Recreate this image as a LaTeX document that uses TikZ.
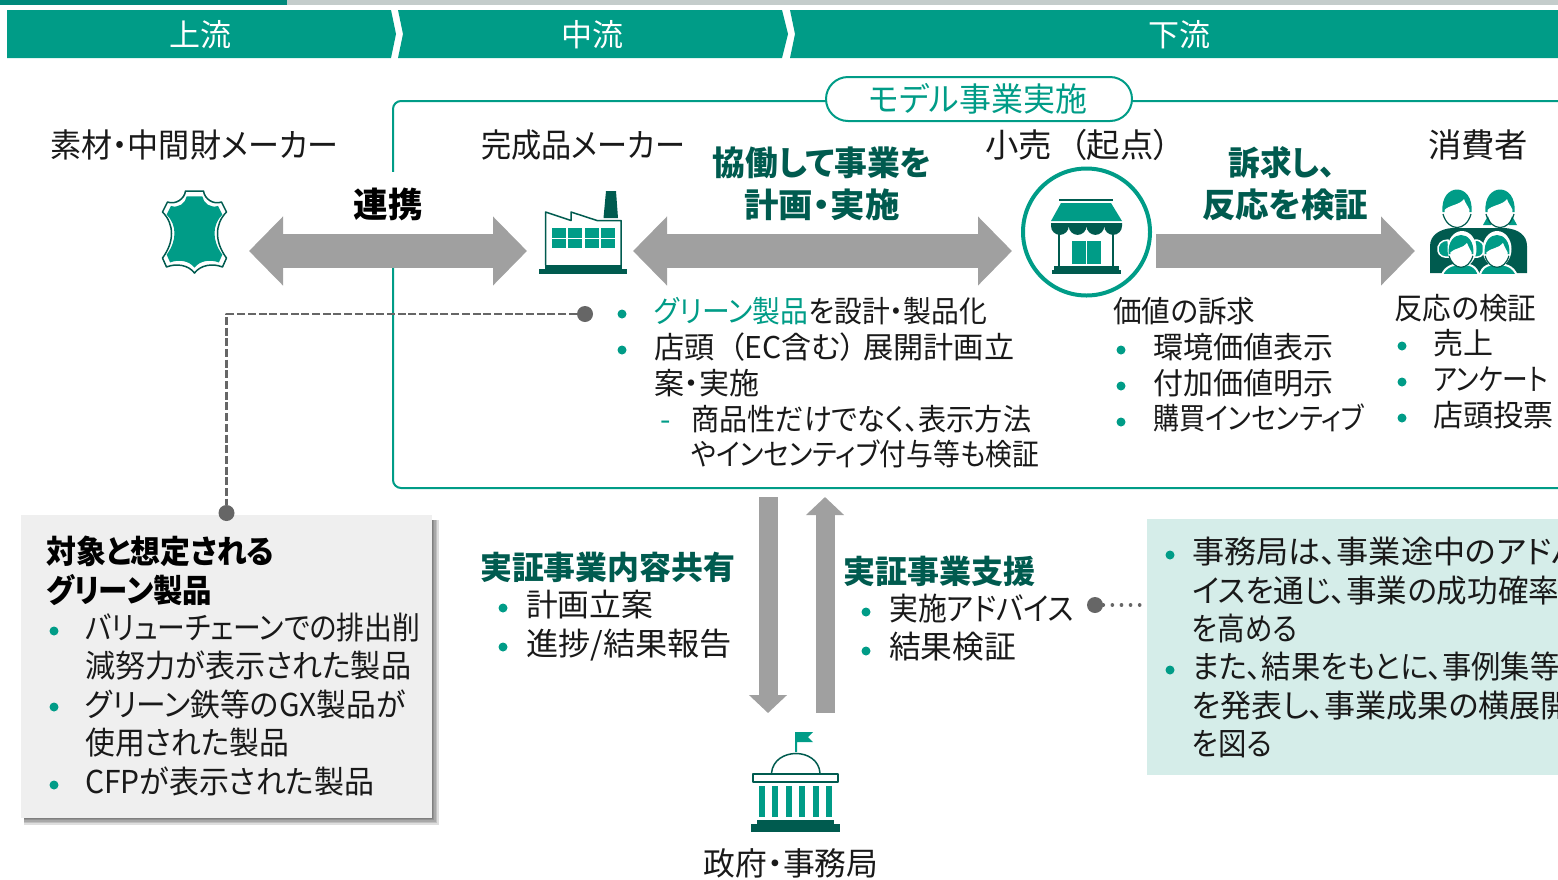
\documentclass[tikz,border=0pt]{standalone}
\usepackage{graphicx}
\usepackage{fontspec}
\setmainfont[RawFeature=+palt]{Noto Sans CJK JP}
\usetikzlibrary{arrows.meta}

\definecolor{vertA}{HTML}{009C87}
\definecolor{vertB}{HTML}{005B4F}
\definecolor{vertC}{HTML}{00897B}
\definecolor{grisA}{HTML}{A0A0A0}
\definecolor{grisB}{HTML}{666666}
\definecolor{grisC}{HTML}{C4CCCB}
\definecolor{fondA}{HTML}{EFEFEF}
\definecolor{fondB}{HTML}{D5EDE9}

\tikzset{
    bodytext/.style={anchor=west, inner sep=0pt, text height=27pt, text depth=4pt, text=black!90, font=\fontsize{30}{36}\selectfont},
    bigtext/.style={bodytext, font=\fontsize{31.5}{38}\selectfont},
    titletext/.style={bodytext, font=\fontsize{33}{36}\selectfont},
    headtext/.style={bodytext, anchor=center, text=white, font=\fontsize{31}{36}\selectfont},
    boldtext/.style={anchor=center, inner sep=0pt, text=vertB, font=\fontsize{33.5}{38}\selectfont\bfseries},
    subtext/.style={boldtext, anchor=west, font=\fontsize{32}{38}\selectfont\bfseries},
    bulletdot/.style={circle, fill=vertA, inner sep=0pt, minimum size=9pt},
    graydot/.style={circle, fill=grisB, inner sep=0pt, minimum size=16pt},
    blockarrow/.style={draw=grisA, line cap=butt, line join=miter, line width=34pt, {Triangle[length=34pt,width=67pt,fill=grisA]}-{Triangle[length=34pt,width=67pt,fill=grisA]}},
    blockright/.style={draw=grisA, line cap=butt, line join=miter, line width=34pt, -{Triangle[length=34pt,width=67pt,fill=grisA]}},
    thinarrow/.style={draw=grisA, line cap=butt, line join=miter, line width=19pt, -{Triangle[length=18pt,width=37pt,fill=grisA]}},
}

% largeur imposee
\newcommand{\fitw}[2]{\resizebox{#1pt}{\height}{#2}}
% tete d'un personnage
\newcommand{\personhead}[3]{
    \begin{scope}[shift={(#1,#2)}, scale=#3]
        \fill[vertA] (-14.5,6) .. controls (-17,-24) and (17,-24) .. (14.5,6) -- cycle;
        \fill[white] (-12.5,4) .. controls (-8,-1) and (3,-1) .. (7,-7) .. controls (8,-3) and (11,0) .. (12.5,4) -- (12,10) .. controls (9,23) and (-9,23) .. (-12,10) -- cycle;
        \draw[vertB, line width=1.2pt] (-14,8) .. controls (-9,26) and (9,26) .. (14,8);
    \end{scope}
}
% contour de la peau
\newcommand{\hidepath}{
    (-9,-41) -- (9,-41) .. controls (10,-33) and (19,-27) .. (27,-30) -- (32,-20)
    .. controls (20,-8) and (20,10) .. (32,26) -- (28,35)
    .. controls (18,31) and (6,33) .. (0,41) .. controls (-6,33) and (-18,31) .. (-28,35) -- (-32,26)
    .. controls (-20,10) and (-20,-8) .. (-32,-20) -- (-27,-30) .. controls (-19,-27) and (-10,-33) .. (-9,-41) -- cycle
}

\begin{document}
\begin{tikzpicture}[x=1pt, y=-1pt, line join=round]

    \useasboundingbox[clip] (0,0) rectangle (1558,879);

    % Bandeau du haut
    \fill[grisC] (287,0) rectangle (1558,5);
    \fill[vertC] (0,0) rectangle (287,5);
    \fill[vertA] (7,10) -- (391,10) -- (396,34) -- (391,58) -- (7,58) -- cycle;
    \fill[vertA] (398,10) -- (782,10) -- (788,34) -- (782,58) -- (398,58) -- (403,34) -- cycle;
    \fill[vertA] (790,10) -- (1558,10) -- (1558,58) -- (790,58) -- (795,34) -- cycle;
    \node[headtext] (up) at (200,35) {上流};
    \node[headtext] (mid) at (592,35) {中流};
    \node[headtext] (down) at (1179,35) {下流};

    % Cadre du modele
    \draw[vertA, line width=2pt, rounded corners=8pt] (1600,101) -- (393,101) -- (393,488) -- (1600,488);
    \node[draw=vertA, fill=white, line width=2pt, rounded corners=22pt, minimum width=306pt, minimum height=44pt, inner sep=0pt] (model) at (979,99) {};
    \node[bodytext, anchor=center, text=vertA, font=\fontsize{33}{36}\selectfont] (modeltext) at (978,100) {\fitw{218}{モデル事業実施}};

    % Titres
    \node[titletext] (maker1) at (50,146) {\fitw{288}{素材・中間財メーカー}};
    \node[titletext] (maker2) at (481,146) {\fitw{204}{完成品メーカー}};
    \node[titletext] (retail) at (985,146) {\fitw{185}{小売\hspace{18pt}（起点）}};
    \node[titletext] (users) at (1428,146) {\fitw{100}{消費者}};

    % Fleches
    \coordinate (a1) at (249,251);
    \coordinate (a2) at (527,251);
    \coordinate (b1) at (633,251);
    \coordinate (b2) at (1012,251);
    \coordinate (c1) at (1156,251);
    \coordinate (c2) at (1415,251);
    \coordinate (d1) at (768,497);
    \coordinate (d2) at (768,713);
    \coordinate (e1) at (825,713);
    \coordinate (e2) at (825,497);
    \node[fill=white, inner sep=0pt, minimum width=90pt, minimum height=62pt] (linkbox) at (388,203) {};
    \draw[blockarrow] (a1) -- (a2);
    \draw[blockarrow] (b1) -- (b2);
    \draw[blockright] (c1) -- (c2);
    \draw[thinarrow] (d1) -- (d2);
    \draw[thinarrow] (e1) -- (e2);
    \node[boldtext, text=black, font=\fontsize{34.5}{38}\selectfont\bfseries] (link) at (388,204) {連携};
    \node[boldtext] (plan1) at (822,163) {\fitw{219}{協働して事業を}};
    \node[boldtext] (plan2) at (822,205) {\fitw{155}{計画・実施}};
    \node[boldtext] (check1) at (1282,163) {\fitw{107}{訴求し、}};
    \node[boldtext] (check2) at (1285,205) {\fitw{166}{反応を検証}};

    % Peau
    \begin{scope}[shift={(194.5,232)}]
        \draw[vertB, line width=1.5pt, fill=white] \hidepath;
        \fill[vertA, scale=0.87] \hidepath;
    \end{scope}

    % Usine
    \draw[vertB, line width=1.5pt, fill=white] (545.5,265) -- (545.5,212) -- (571,220.5) -- (571,212) -- (597,220.5) -- (621,220.5) -- (621,265);
    \fill[vertB] (606,191) -- (616,191) -- (618,218) -- (603.5,218) -- cycle;
    \foreach \x in {552,568,585,601}{
        \fill[vertA] (\x,228) rectangle ++(14,9.5);
        \fill[vertA] (\x,239) rectangle ++(14,8.5);
    }
    \fill[vertB] (545,265) rectangle (622,269);
    \fill[vertB] (539,269) rectangle (627,274);

    % Magasin
    \node[circle, draw=vertA, line width=4pt, fill=white, minimum size=127pt, inner sep=0pt] (shop) at (1086.5,232) {};
    \fill[vertB] (1059,198.5) rectangle (1113,200.5);
    \fill[vertA] (1061,203) -- (1111,203) -- (1122,221) -- (1051,221) -- cycle;
    \fill[vertB] (1051,223) -- (1122,223) -- (1122,226) arc[start angle=0, end angle=180, radius=8.875] arc[start angle=0, end angle=180, radius=8.875] arc[start angle=0, end angle=180, radius=8.875] arc[start angle=0, end angle=180, radius=8.875] -- cycle;
    \fill[vertB] (1058,232) rectangle (1060,266);
    \fill[vertB] (1112,232) rectangle (1114,266);
    \fill[vertA] (1072,241) rectangle (1085.5,264);
    \fill[vertA] (1087,241) rectangle (1101,264);
    \fill[vertB] (1054,266) rectangle (1119,270);
    \fill[vertB] (1052,270) rectangle (1121,274);

    % Famille
    \begin{scope}
        \clip (1425,180) rectangle (1530,273);
        \fill[vertB] (1430,273) -- (1430,246) .. controls (1430,235) and (1440,229) .. (1452,228) -- (1505,228) .. controls (1518,229) and (1527,235) .. (1527,246) -- (1527,273) -- cycle;
        \fill[vertA] (1489,214) -- (1483,225) -- (1491,225) -- cycle;
        \fill[vertA] (1511,214) -- (1517,225) -- (1509,225) -- cycle;
        \personhead{1457}{206}{1}
        \personhead{1500}{206}{1}
        \draw[white, line width=1.5pt, fill=vertA] (1448,240) .. controls (1441,240) and (1437,245) .. (1438,251) .. controls (1439,256) and (1444,258) .. (1450,257) -- cycle;
        \draw[white, line width=1.5pt, fill=vertA] (1475,240) .. controls (1482,240) and (1485,245) .. (1484,251) .. controls (1483,256) and (1479,258) .. (1473,257) -- cycle;
        \draw[white, line width=2pt, fill=vertA] (1441,280) .. controls (1442,268) and (1451,264) .. (1462,264) .. controls (1473,264) and (1478,268) .. (1480,280) -- cycle;
        \draw[white, line width=2pt, fill=vertA] (1479,280) .. controls (1480,268) and (1486,264) .. (1497,264) .. controls (1508,264) and (1516,268) .. (1518,280) -- cycle;
        \fill[white] (1462,249) ellipse (14.5 and 18);
        \fill[white] (1497,249) ellipse (14.5 and 18);
        \personhead{1461}{249}{0.85}
        \personhead{1497}{249}{0.85}
    \end{scope}

    % Gouvernement
    \fill[vertA] (795,732) -- (813,732) -- (808,737) -- (813,742) -- (797,742) -- (797,752) -- (795,752) -- cycle;
    \draw[vertB, line width=1.5pt] (771.5,773) .. controls (774,747) and (818,747) .. (820,773);
    \draw[vertB, line width=1.5pt, fill=white] (753,774) rectangle (838,782);
    \foreach \x in {759,772,786,799,813,826}{
        \fill[vertA] (\x,786) rectangle ++(6,31);
    }
    \fill[vertB] (757,820) rectangle (834,824);
    \fill[vertB] (751,824) rectangle (840,832);
    \node[bodytext, anchor=center, font=\fontsize{32}{36}\selectfont] (gov) at (791,864) {\fitw{175}{政府・事務局}};

    % Panneaux
    \foreach \d in {0.5,2,3.5,5,6.5}{
        \fill[black, opacity=.13] (24,520) rectangle (432+\d,818+\d);
    }
    \node[fill=fondA, inner sep=0pt, minimum width=411pt, minimum height=303pt] (panelL) at (226.5,666.5) {};
    \node[fill=fondB, inner sep=0pt, minimum width=411pt, minimum height=256pt] (panelR) at (1352.5,647) {};

    % Liens pointilles
    \coordinate (panelIn) at (1147,605);
    \node[graydot] (dotA) at (585,314) {};
    \node[graydot] (dotB) at (226.5,513) {};
    \node[graydot] (dotC) at (1095,605) {};
    \draw[grisB, line width=2.2pt, dash pattern=on 8pt off 2.7pt] (dotA) -| (dotB);
    \draw[grisB, line width=3.6pt, line cap=round, dash pattern=on 0.1pt off 9pt] (dotC) -- (panelIn);

    % Texte du cadre
    \node[bodytext] (t1) at (654,311) {\fitw{333}{\textcolor{vertA}{グリーン製品}を設計・製品化}};
    \node[bodytext] (t2) at (654,347) {\fitw{360}{店頭\hspace{15pt}（EC含む）\hspace{8pt}展開計画立}};
    \node[bodytext] (t3) at (654,383) {案・実施};
    \node[bodytext, text=vertA] (t4) at (660,419) {-};
    \node[bodytext] (t5) at (691,419) {\fitw{340}{商品性だけでなく、表示方法}};
    \node[bodytext] (t6) at (691,454) {\fitw{348}{やインセンティブ付与等も検証}};
    \node[bodytext] (t7) at (1113,311) {\fitw{142}{価値の訴求}};
    \node[bodytext] (t8) at (1153,347) {環境価値表示};
    \node[bodytext] (t9) at (1153,383) {付加価値明示};
    \node[bodytext] (t10) at (1153,418) {\fitw{211}{購買インセンティブ}};
    \node[bodytext] (t11) at (1394,308) {\fitw{142}{反応の検証}};
    \node[bodytext] (t12) at (1433,343) {売上};
    \node[bodytext] (t13) at (1433,379) {\fitw{115}{アンケート}};
    \node[bodytext] (t14) at (1433,415) {店頭投票};

    % Texte panneau gauche
    \node[subtext, text=black] (p1) at (46,551) {\fitw{228}{対象と想定される}};
    \node[subtext, text=black] (p2) at (46,590) {\fitw{166}{グリーン製品}};
    \node[bigtext] (p3) at (85,628) {\fitw{335}{バリューチェーンでの排出削}};
    \node[bigtext] (p4) at (85,666) {\fitw{326}{減努力が表示された製品}};
    \node[bigtext] (p5) at (85,705) {\fitw{320}{グリーン鉄等のGX製品が}};
    \node[bigtext] (p6) at (85,743) {\fitw{204}{使用された製品}};
    \node[bigtext] (p7) at (85,782) {\fitw{289}{CFPが表示された製品}};

    % Texte du milieu
    \node[subtext] (s1) at (480,567) {\fitw{255}{実証事業内容共有}};
    \node[bigtext] (s2) at (526,605) {\fitw{127}{計画立案}};
    \node[bigtext] (s3) at (526,644) {\fitw{206}{進捗/結果報告}};
    \node[subtext] (s4) at (843,571) {\fitw{192}{実証事業支援}};
    \node[bigtext] (s5) at (889,609) {\fitw{185}{実施アドバイス}};
    \node[bigtext] (s6) at (889,647) {\fitw{127}{結果検証}};

    % Texte panneau droit
    \node[bigtext] (r1) at (1192,552) {\scalebox{1.02}[1]{事務局は、事業途中のアドバ}};
    \node[bigtext] (r2) at (1192,591) {\scalebox{.97}[1]{イスを通じ、事業の成功確率}};
    \node[bigtext] (r3) at (1192,629) {\fitw{105}{を高める}};
    \node[bigtext] (r4) at (1192,667) {\scalebox{.93}[1]{また、結果をもとに、事例集等}};
    \node[bigtext] (r5) at (1192,706) {\scalebox{.985}[1]{を発表し、事業成果の横展開}};
    \node[bigtext] (r6) at (1192,744) {\fitw{80}{を図る}};

    % Puces
    \foreach \x/\y [count=\i] in {622/314, 622/350, 1121/350, 1121/386, 1121/422, 1402/346, 1402/382, 1402/418, 54/631, 54/707, 54/785, 503/608, 503/647, 866/612, 866/651, 1170/555, 1170/670}{
        \node[bulletdot] (bul\i) at (\x,\y) {};
    }

\end{tikzpicture}
\end{document}
